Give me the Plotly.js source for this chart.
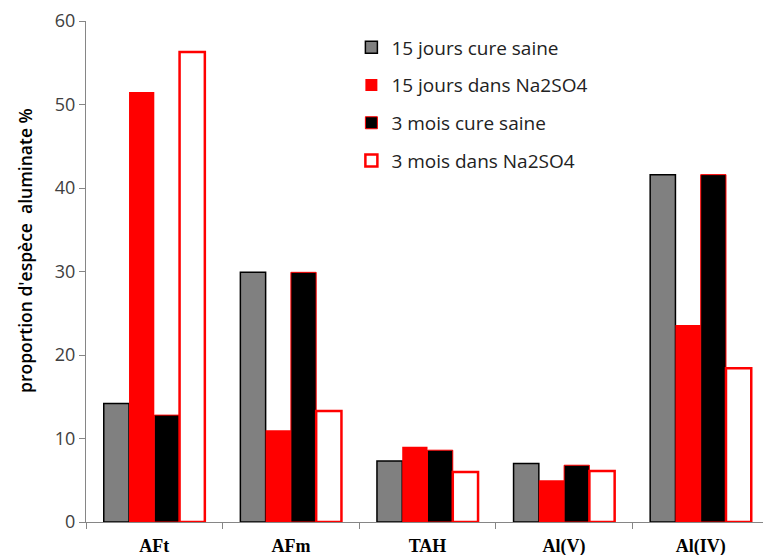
<!DOCTYPE html>
<html>
<head>
<meta charset="utf-8">
<script src="https://cdn.plot.ly/plotly-3.0.1.min.js"></script>
<style>html,body{margin:0;padding:0;background:#fff;}#chart{width:763px;height:555px;}</style>
</head>
<body>
<div id="chart"></div>
<script>
const categories = ["AFt", "AFm", "TAH", "Al(V)", "Al(IV)"];
const jours15Saine = [14.2, 29.9, 7.3, 7.0, 41.6];
const jours15Na2SO4 = [51.5, 11.0, 9.0, 5.0, 23.6];
const mois3Saine = [12.8, 29.9, 8.6, 6.8, 41.6];
const mois3Na2SO4 = [56.3, 13.3, 6.0, 6.1, 18.4];
const seriesNames = ["15 jours cure saine", "15 jours dans Na2SO4", "3 mois cure saine", "3 mois dans Na2SO4"];
const yTicks = [0, 10, 20, 30, 40, 50, 60];
const yTitle = "proportion d'espèce  aluminate %";

const styles = [
  {color: "#808080", line: {color: "#000000", width: 1.5}},
  {color: "#FF0000", line: {color: "#FF0000", width: 0}},
  {color: "#000000", line: {color: "#FF0000", width: 1}},
  {color: "#FFFFFF", line: {color: "#FF0000", width: 2.5}}
];
const values = [jours15Saine, jours15Na2SO4, mois3Saine, mois3Na2SO4];

const data = values.map((v, i) => ({
  type: "bar",
  x: categories,
  y: v,
  name: seriesNames[i],
  legendgroup: "g" + i,
  marker: styles[i],
  hoverinfo: "skip"
}));

const layout = {
  width: 763,
  height: 555,
  margin: {l: 86, r: 0, t: 21, b: 33},
  paper_bgcolor: "#ffffff",
  plot_bgcolor: "#ffffff",
  barmode: "group",
  bargap: 0.26,
  bargroupgap: 0,
  showlegend: true,
  legend: {
    x: 0.392, y: 0.985, xanchor: "left", yanchor: "top",
    font: {family: "Open Sans", size: 19, color: "#222222"},
    traceorder: "grouped",
    tracegroupgap: 10,
    bgcolor: "rgba(0,0,0,0)"
  },
  xaxis: {
    type: "category",
    range: [-0.5, 4.456],
    showline: true, linecolor: "#868686", linewidth: 1,
    ticks: "outside", tickson: "boundaries", ticklen: 6, tickcolor: "#868686",
    ticklabelstandoff: 7,
    tickfont: {family: "Liberation Serif", size: 18, color: "#000000", weight: "bold"},
    showgrid: false, zeroline: false, fixedrange: true
  },
  yaxis: {
    range: [0, 60],
    tickvals: yTicks,
    showline: true, linecolor: "#868686", linewidth: 1,
    ticks: "outside", ticklen: 6, tickcolor: "#868686",
    tickfont: {family: "Open Sans", size: 18, color: "#404040"},
    showgrid: false, zeroline: false, fixedrange: true
  },
  annotations: [{
    text: yTitle,
    xref: "paper", yref: "paper",
    x: -0.0901, y: 0.541,
    xanchor: "center", yanchor: "middle",
    textangle: -90, showarrow: false,
    font: {family: "Open Sans", size: 17.5, color: "#000000", weight: 600}
  }]
};

Plotly.newPlot("chart", data, layout, {staticPlot: true, displayModeBar: false});
</script>
</body>
</html>
